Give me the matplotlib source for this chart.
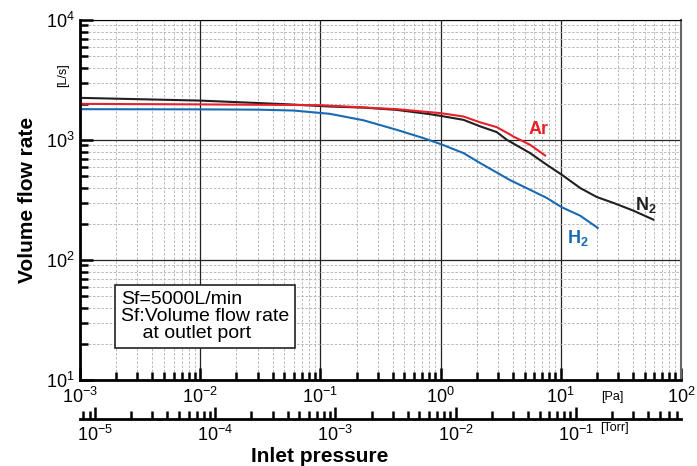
import matplotlib.pyplot as plt
from matplotlib.ticker import LogLocator, NullFormatter

plt.rcParams['font.family'] = ['Liberation Sans', 'DejaVu Sans']
plt.rcParams['mathtext.default'] = 'regular'

# inlet pressure [Pa] vs volume flow rate [L/s], Sf = 5000 L/min
n2_p = [1e-3, 0.01, 0.05, 0.12, 0.228, 0.431, 0.817, 1.0, 1.55, 2.13, 2.93,
        3.55, 5.55, 7.64, 10.2, 14.5, 19.9, 27.4, 40.1, 58.9]
n2_q = [2245, 2130, 1990, 1901, 1862, 1782, 1641, 1589, 1472, 1300, 1164,
        1005, 778, 622, 513, 398, 335, 299, 258, 217]

ar_p = [1e-3, 0.01, 0.1, 0.431, 1.0, 1.55, 2.13, 2.93, 3.73, 4.03, 5.55, 7.40]
ar_q = [2000, 1980, 1950, 1807, 1674, 1570, 1404, 1280, 1120, 1069, 912, 743]

h2_p = [1e-3, 0.01, 0.03, 0.06, 0.12, 0.228, 0.431, 0.72, 1.0, 1.55, 2.13,
        3.73, 7.64, 10.2, 14.5, 20.3]
h2_q = [1807, 1800, 1790, 1760, 1652, 1460, 1216, 1037, 925, 778, 643,
        467, 329, 275, 234, 185]

PA_PER_TORR = 133.322

fig = plt.figure(figsize=(6.97, 4.66), dpi=100)
ax = fig.add_axes([80/697, 1-380/466, 601/697, 360/466])

ax.plot(n2_p, n2_q, color='#231f20', lw=1.5)
ax.plot(ar_p, ar_q, color='#e8202a', lw=1.5)
ax.plot(h2_p, h2_q, color='#1a6ab3', lw=1.5)

ax.set_xscale('log')
ax.set_yscale('log')
ax.set_xlim(1e-3, 1e2)
ax.set_ylim(10, 1e4)

ax.xaxis.set_major_locator(LogLocator(base=10, numticks=10))
ax.xaxis.set_minor_locator(LogLocator(base=10, subs=range(2, 10), numticks=20))
ax.yaxis.set_minor_locator(LogLocator(base=10, subs=range(2, 10), numticks=20))
ax.xaxis.set_minor_formatter(NullFormatter())
ax.yaxis.set_minor_formatter(NullFormatter())

ax.grid(True, which='major', color='#222222', lw=0.9)
ax.grid(True, which='minor', color='#b0b0b0', lw=0.6, ls=(0, (3, 2)))

ax.tick_params(which='both', direction='in', labelsize=13, width=1.8)
ax.tick_params(which='major', length=9)
ax.tick_params(which='minor', length=6)
ax.tick_params(axis='x', pad=5)
ax.tick_params(axis='y', pad=4)
ax.spines['left'].set_linewidth(2)
ax.spines['bottom'].set_linewidth(2)
ax.spines['right'].set_linewidth(1.5)
ax.spines['right'].set_color('#666666')
ax.spines['top'].set_linewidth(0.8)

# second pressure scale in Torr below the Pa axis
sec = ax.secondary_xaxis(-0.108, functions=(lambda p: p / PA_PER_TORR,
                                            lambda t: t * PA_PER_TORR))
sec.set_xticks([1e-5, 1e-4, 1e-3, 1e-2, 1e-1])
sec.xaxis.set_minor_locator(LogLocator(base=10, subs=range(2, 10), numticks=20))
sec.xaxis.set_minor_formatter(NullFormatter())
sec.tick_params(which='both', direction='in', labelsize=13, width=1.8, pad=4)
sec.tick_params(which='major', length=9)
sec.tick_params(which='minor', length=6)
sec.spines['bottom'].set_linewidth(2)

ax.set_ylabel('Volume flow rate', fontsize=15, fontweight='bold', labelpad=6)
fig.text(320/697, 1-456/466, 'Inlet pressure', fontsize=15, fontweight='bold',
         ha='center', va='center')
fig.text(63/697, 1-75/466, '[L/s]', fontsize=9, rotation=90, ha='center', va='center')
fig.text(612/697, 1-397/466, '[Pa]', fontsize=9, ha='center', va='center')
fig.text(614/697, 1-428/466, '[Torr]', fontsize=9, ha='center', va='center')

ax.text(6.5, 1216, 'Ar', color='#e8202a', fontsize=13, fontweight='bold',
        ha='center', va='center')
ax.text(51, 289, 'N$_2$', color='#231f20', fontsize=13, fontweight='bold',
        ha='center', va='center')
ax.text(13.9, 153, 'H$_2$', color='#1a6ab3', fontsize=13, fontweight='bold',
        ha='center', va='center')

fig.text(121/697, 1-291/466, 'Sf=5000L/min\nSf:Volume flow rate\n    at outlet port',
         fontsize=14, ha='left', va='top', linespacing=1.0,
         bbox=dict(boxstyle='square,pad=0.3', fc='white', ec='#222222', lw=1.2))

fig.savefig('out.png', dpi=100)
